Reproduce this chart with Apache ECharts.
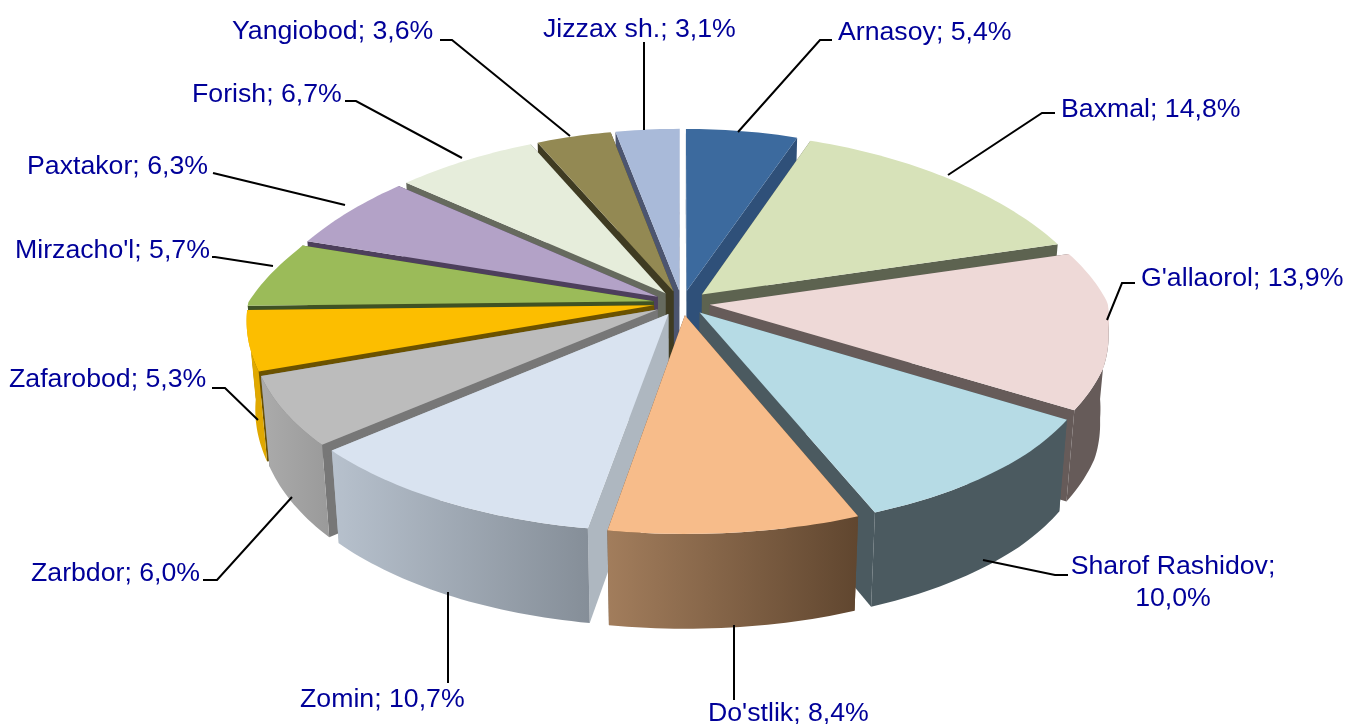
<!DOCTYPE html>
<html><head><meta charset="utf-8">
<style>html,body{margin:0;padding:0;background:#fff}#c{width:1347px;height:724px}</style>
<script src="https://cdn.jsdelivr.net/npm/echarts@6/dist/echarts.min.js"></script>
</head><body><div id="c"></div>
<script>
const categories = ["Arnasoy","Baxmal","G'allaorol","Sharof Rashidov","Do'stlik","Zomin","Zarbdor","Zafarobod","Mirzacho'l","Paxtakor","Forish","Yangiobod","Jizzax sh."];
const shares = [5.4,14.8,13.9,10.0,8.4,10.7,6.0,5.3,5.7,6.3,6.7,3.6,3.1];

const topColors  = ['#3c6a9e','#d7e2b9','#eed9d7','#b6dbe5','#f7bc8a','#d9e3f0','#bcbcbc','#fcbe00','#9bbb59','#b3a2c7','#e6eddb','#938953','#a9bad9'];
const faceColors = ['#2f5079','#5d6350','#665b59','#4b5a60','#64492f','#aeb7c0','#777777','#6b5200','#3f5224','#4d3f5c','#666a5e','#3f3b22','#4c5570'];
const wallLeft   = ['#2f5079','#5d6350','#665b59','#4b5a60','#a27d5c','#b7c1cd','#ababab','#e0a800','#3f5224','#4d3f5c','#666a5e','#3f3b22','#4c5570'];
const wallRight  = ['#2f5079','#5d6350','#665b59','#4b5a60','#60462f','#858e98','#9a9a9a','#e0a800','#3f5224','#4d3f5c','#666a5e','#3f3b22','#4c5570'];
const labelBoxes = [
  {x:838,y:33},{x:1061,y:110},{x:1141,y:279},{x:1173,y:583,align:'center'},{x:708,y:714},{x:300,y:700},
  {x:31,y:574},{x:9,y:380},{x:15,y:251},{x:27,y:167},{x:192,y:95},{x:232,y:32},{x:543,y:30}];
const leaders = [
  [[738,132],[820,40],[832,40]],[[948,175],[1042,113],[1055,113]],[[1107,320],[1122,283],[1135,283]],
  [[983,560],[1055,575],[1068,575]],[[734,625],[734,700]],[[448,592],[448,683]],[[292,497],[217,580],[203,580]],
  [[258,420],[225,388],[212,388]],[[273,266],[215,257],[212,257]],[[345,205],[213,173]],[[462,158],[356,101],[345,101]],
  [[570,136],[452,40],[440,40]],[[644,130],[644,42]]];

const CX=682, CY=303, RX=398, RY=175, EXPLODE=0.07, DEPTH=88;
const total = shares.reduce((a,b)=>a+b,0);
const rad = v => v/total*Math.PI*2;
const clamp01 = v => Math.max(0,Math.min(1,v));

function project(theta, r, mid, low){
  const X = Math.sin(theta)*r + EXPLODE*Math.sin(mid);
  const Z = -Math.cos(theta)*r - EXPLODE*Math.cos(mid);
  const py = Z>0 ? 0.177 : 0.07;
  const px = Z>0 ? 0.06+0.11*Z : 0.19;
  const f = 1/(1-Z*py), fx = 1/(1-Z*px), fd = 1/(1-Z*0.13);
  const shrink = low ? 0.98 : 1;
  const widen = X<0
    ? 1 + 0.02*clamp01((Z+0.3)/0.3)*clamp01((1-Z)/0.25)
    : 1 + 0.012*clamp01((Z-0.15)/0.2)*clamp01((1-Z)/0.25);
  return [CX + X*RX*fx*shrink*widen, CY + Z*RY*f + (low ? DEPTH*Math.sqrt(fd) : 0)];
}
function arc(a,b,mid,low){
  const n = Math.max(2, Math.ceil((b-a)/0.02)), pts=[];
  for(let i=0;i<=n;i++) pts.push(project(a+(b-a)*i/n,1,mid,low));
  return pts;
}
let cum=0;
const spans = shares.map(v=>{const a=rad(cum);cum+=v;return [a,rad(cum)];});
const order = spans.map((s,i)=>({i,d:-Math.cos((s[0]+s[1])/2)})).sort((p,q)=>p.d-q.d);
const rank = []; order.forEach((o,k)=>rank[o.i]=k);
const LOW=92*Math.PI/180, HIGH=268*Math.PI/180;

function renderItem(params, api){
  const i = api.value(1);
  const [a,b] = spans[i]; const mid=(a+b)/2; const base = rank[i]*5+1;
  const kids=[];
  const poly=(pts,fill,z)=>kids.push({type:'polygon',shape:{points:pts},style:{fill,stroke:null},z2:z,silent:true});
  [a,b].forEach(t=>poly([project(0,0,mid,false),project(t,1,mid,false),project(t,1,mid,true),project(0,0,mid,true)],faceColors[i],base));
  const wa=Math.max(a,LOW), wb=Math.min(b,HIGH);
  if(wb>wa){
    const top=arc(wa,wb,mid,false), bot=arc(wa,wb,mid,true).reverse();
    poly(top.concat(bot),{type:'linear',x:0,y:0,x2:1,y2:0,colorStops:[{offset:0,color:wallLeft[i]},{offset:1,color:wallRight[i]}]},base+1);
  }
  poly([project(0,0,mid,false)].concat(arc(a,b,mid,false)),topColors[i],base+2);
  kids.push({type:'polyline',shape:{points:leaders[i]},style:{stroke:'#000',lineWidth:2,fill:null},z2:200,silent:true});
  const lb=labelBoxes[i];
  const v=shares[i].toFixed(1).replace('.',',')+'%';
  const txt = i===3 ? categories[i]+';\n'+v : categories[i]+'; '+v;
  kids.push({type:'text',x:lb.x,y:lb.y,z2:201,silent:true,style:{text:txt,fill:'#000099',font:'26.7px "Liberation Sans", Arial, sans-serif',textAlign:lb.align||'left',textVerticalAlign:'middle',lineHeight:32}});
  return {type:'group',children:kids};
}
const chart=echarts.init(document.getElementById('c'),null,{renderer:'canvas'});
chart.setOption({animation:false,backgroundColor:'#fff',series:[{type:'custom',coordinateSystem:'none',renderItem,silent:true,
  data:shares.map((v,i)=>[v,i,categories[i]])}]});
</script></body></html>
